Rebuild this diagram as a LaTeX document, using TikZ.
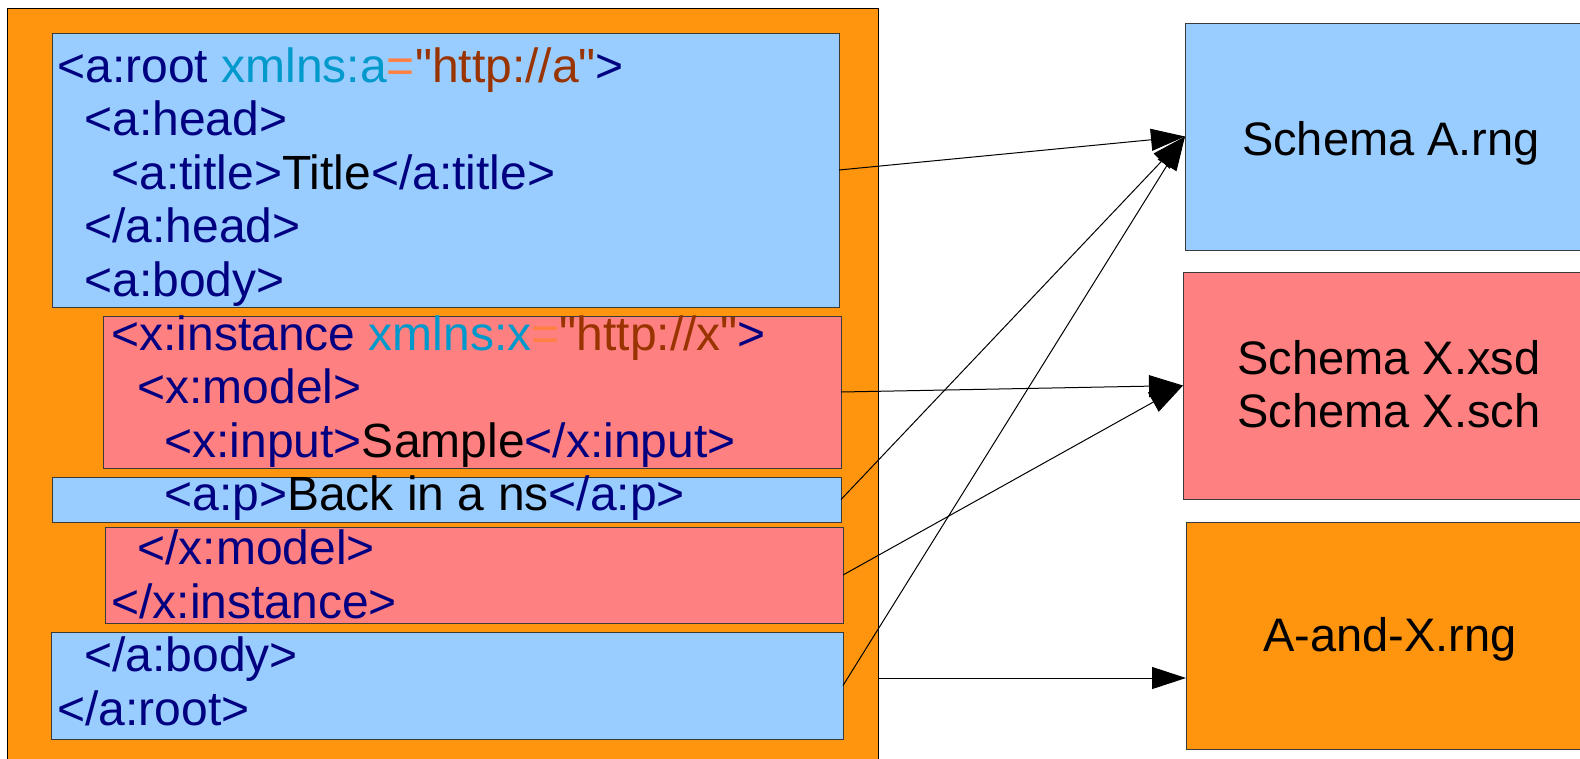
\documentclass[tikz,border=0pt]{standalone}
\usepackage{fontspec}
\setmainfont{Liberation Sans}
\usetikzlibrary{arrows.meta}
\definecolor{orangebg}{HTML}{FF950E}
\definecolor{bluebg}{HTML}{99CCFF}
\definecolor{redbg}{HTML}{FF8080}
\definecolor{tagc}{HTML}{000080}
\definecolor{attc}{HTML}{0099CC}
\definecolor{eqc}{HTML}{FF8040}
\definecolor{strc}{HTML}{993300}
\definecolor{edgec}{HTML}{3A3A3A}
\newcommand{\tg}[1]{\textcolor{tagc}{#1}}
\newcommand{\at}[1]{\textcolor{attc}{#1}}
\newcommand{\eqs}[1]{\textcolor{eqc}{#1}}
\newcommand{\st}[1]{\textcolor{strc}{#1}}
\tikzset{
  box/.style={draw=edgec, line width=1pt, inner sep=0pt, outer sep=0pt, anchor=north west},
  code/.style={anchor=base west, inner sep=0pt, outer sep=0pt, font=\fontsize{48pt}{54pt}\selectfont},
  lbl/.style={anchor=base, inner sep=0pt, outer sep=0pt, font=\fontsize{47pt}{54pt}\selectfont},
  conn/.style={draw=black, line width=1pt, -{Triangle[length=34pt,width=22pt]}}
}
\begin{document}
\begin{tikzpicture}[x=1pt,y=-1pt]
\clip (0,0) rectangle (1580,758);
\fill[white] (0,0) rectangle (1580,758);
% outer container
\node[box, draw=black, fill=orangebg, minimum width=871pt, minimum height=772pt] (outer) at (7,8) {};
% inner blocks
\node[box, fill=bluebg, minimum width=787pt, minimum height=274pt] (b1) at (52,33) {};
\node[box, fill=redbg, minimum width=738pt, minimum height=152pt] (r1) at (103,316) {};
\node[box, fill=bluebg, minimum width=789pt, minimum height=45pt] (b2) at (52,477) {};
\node[box, fill=redbg, minimum width=738pt, minimum height=96pt] (r2) at (105,527) {};
\node[box, fill=bluebg, minimum width=792pt, minimum height=107pt] (b3) at (51,632) {};
% right boxes
\node[box, fill=bluebg, minimum width=415pt, minimum height=227pt] (sa) at (1185,23) {};
\node[box, fill=redbg, minimum width=417pt, minimum height=227pt] (sx) at (1183,272) {};
\node[box, fill=orangebg, minimum width=414pt, minimum height=227pt] (ax) at (1186,522) {};
% code lines
\node[code] (l1) at (57.5,82) {\tg{<a:root }\at{xmlns:a}\eqs{=}\st{\textquotedbl http://a\textquotedbl}\tg{>}};
\node[code] (l2) at (84.5,135.6) {\tg{<a:head>}};
\node[code] (l3) at (111.5,189.2) {\tg{<a:title>}Title\tg{</a:title>}};
\node[code] (l4) at (84.5,242.8) {\tg{</a:head>}};
\node[code] (l5) at (84.5,296.4) {\tg{<a:body>}};
\node[code] (l6) at (111.5,350) {\tg{<x:instance }\at{xmlns:x}\eqs{=}\st{\textquotedbl http://x\textquotedbl}\tg{>}};
\node[code] (l7) at (137.5,403.6) {\tg{<x:model>}};
\node[code] (l8) at (164.5,457.2) {\tg{<x:input>}Sample\tg{</x:input>}};
\node[code] (l9) at (164.5,510.8) {\tg{<a:p>}Back in a ns\tg{</a:p>}};
\node[code] (l10) at (137.5,564.4) {\tg{</x:model>}};
\node[code] (l11) at (111.5,618) {\tg{</x:instance>}};
\node[code] (l12) at (84.5,671.6) {\tg{</a:body>}};
\node[code] (l13) at (57.5,725.2) {\tg{</a:root>}};
% right labels
\node[lbl] (tsa) at (1391,155) {Schema A.rng};
\node[lbl] (tsx1) at (1389,374) {Schema X.xsd};
\node[lbl] (tsx2) at (1389,427) {Schema X.sch};
\node[lbl] (tax) at (1390,651) {A-and-X.rng};
% connectors
\draw[conn] (b1.east) -- (sa.west);
\draw[conn] (r1.east) -- (sx.west);
\draw[conn] (b2.east) -- (sa.west);
\draw[conn] (r2.east) -- (sx.west);
\draw[conn] (b3.east) -- (sa.west);
\coordinate (os) at (878,678);
\draw[conn] (os) -- (os -| ax.west);
\end{tikzpicture}
\end{document}
